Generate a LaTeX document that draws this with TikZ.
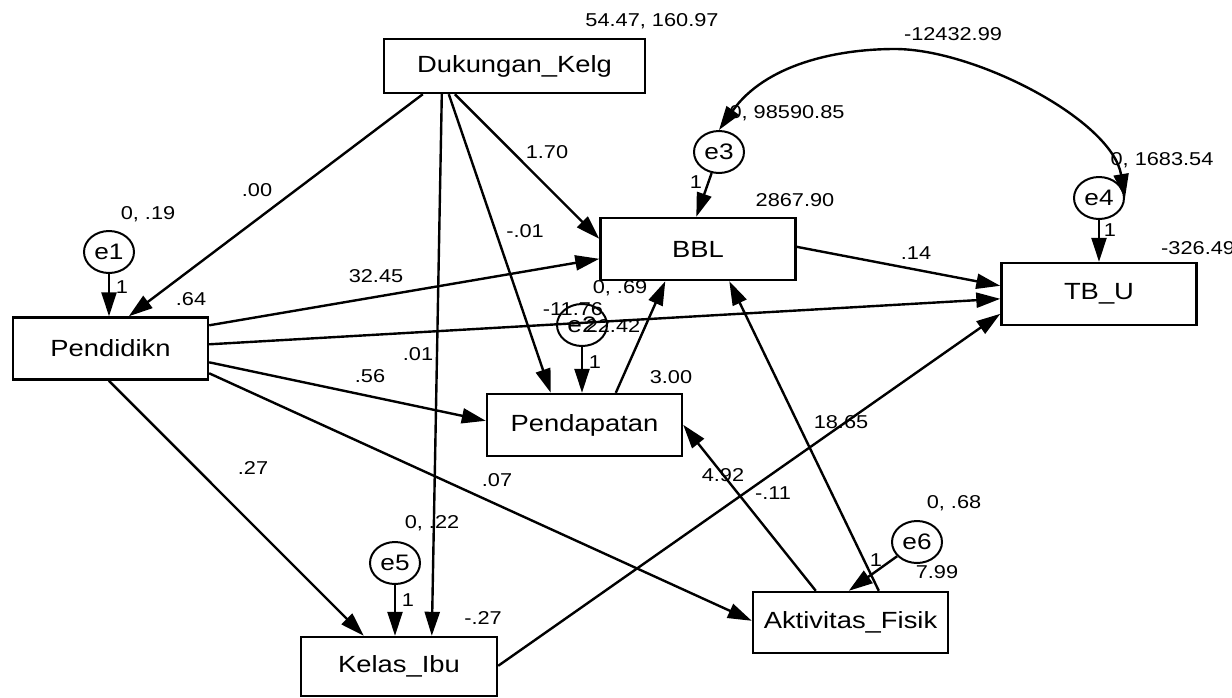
\documentclass[tikz,border=0pt]{standalone}
\usepackage{fontspec}
\setmainfont{Liberation Sans}[FakeStretch=1.17]
\usetikzlibrary{arrows.meta,calc,shapes.geometric}
\begin{document}
\begin{tikzpicture}[x=0.5pt,y=-0.5pt, line width=1.2pt,
 box/.style={draw, line width=1.2pt, minimum width=97.5pt, minimum height=31pt, inner sep=0pt, font=\fontsize{11.7}{14}\selectfont},
 err/.style={draw, ellipse, line width=1pt, minimum width=25pt, minimum height=21pt, inner sep=0pt, font=\fontsize{11.2}{13}\selectfont},
 lbl/.style={font=\fontsize{9.3}{11}\selectfont, inner sep=0pt},
 pth/.style={-{Triangle[length=12pt,width=7.5pt]}, line width=1.2pt},
 cov/.style={{Triangle[length=12pt,width=7.5pt]}-{Triangle[length=12pt,width=7.5pt]}, line width=1.2pt}]
\useasboundingbox (0,0) rectangle (1232,697);
% boxes
\node[box, minimum width=130.5pt, minimum height=27pt] (dk) at (514.5,66) {Dukungan\_Kelg};
\node[box] (bbl) at (698,249) {BBL};
\node[box] (tb) at (1099,294) {TB\_U};
\node[box] (pe) at (110.5,348.5) {Pendidikn};
\node[box] (pd) at (584.5,425) {Pendapatan};
\node[box, minimum width=98pt, minimum height=29.5pt] (ki) at (399,666.5) {Kelas\_Ibu};
\node[box, minimum height=30.5pt] (ak) at (850.5,622.5) {Aktivitas\_Fisik};
% error terms
\node[err] (e1) at (109,252) {e1};
\node[err] (e2) at (582,325) {e2};
\node[err] (e3) at (719,152) {e3};
\node[err] (e4) at (1099,198) {e4};
\node[err] (e5) at (395,563) {e5};
\node[err] (e6) at (917,542) {e6};
% paths
\draw[pth] ($(dk.south west)+(40,0)$) -- ($(pe.north west)+(117,0)$);
\draw[pth] ($(dk.south west)+(59,0)$) -- ($(ki.north west)+(132,0)$);
\draw[pth] ($(dk.south west)+(66,0)$) -- ($(pd.north west)+(65,0)$);
\draw[pth] ($(dk.south west)+(72,0)$) -- ($(bbl.north west)+(0,22)$);
\draw[pth] ($(pe.north east)+(0,9)$) -- ($(bbl.north west)+(0,42)$);
\draw[pth] ($(pe.north east)+(0,28)$) -- ($(tb.north west)+(0,37)$);
\draw[pth] ($(pe.north east)+(0,46)$) -- ($(pd.north west)+(0,28)$);
\draw[pth] ($(pe.north east)+(0,57)$) -- ($(ak.north west)+(0,30)$);
\draw[pth] ($(pe.south west)+(97,0)$) -- ($(ki.north west)+(64,0)$);
\draw[pth] ($(bbl.north east)+(0,30)$) -- ($(tb.north west)+(0,24)$);
\draw[pth] ($(ki.north east)+(0,30)$) -- ($(tb.north west)+(0,52)$);
\draw[pth] ($(pd.north west)+(130,0)$) -- ($(bbl.south west)+(66,0)$);
\draw[pth] ($(ak.north west)+(64,0)$) -- ($(pd.north east)+(0,32)$);
\draw[pth] ($(ak.north west)+(127,0)$) -- ($(bbl.south west)+(130,0)$);
\draw[pth] (e6) -- ($(ak.north west)+(97,0)$);
\draw[pth] (e1) -- (e1 |- pe.north);
\draw[pth] (e2) -- (e2 |- pd.north);
\draw[pth] (e3) -- ($(bbl.north west)+(97,0)$);
\draw[pth] (e4) -- (e4 |- tb.north);
\draw[pth] (e5) -- (e5 |- ki.north);
% covariance
\coordinate (ctop) at (895,49);
\draw[cov] (e3.north) .. controls (765,65) and (835,49) .. (ctop) .. controls (975,49) and (1112,120) .. (e4.east);
% labels
\node[lbl] (v0) at (652,21) {54.47, 160.97};
\node[lbl] (c34) at (953,34) {-12432.99};
\node[lbl] (v3) at (787,113) {0, 98590.85};
\node[lbl] (v4) at (1162,160) {0, 1683.54};
\node[lbl] (ibbl) at (795,200) {2867.90};
\node[lbl, anchor=west] (itb) at (1160,248) {-326.49};
\node[lbl] (p14) at (916,253) {.14};
\node[lbl] (p170) at (547,152) {1.70};
\node[lbl] (p00) at (257,190) {.00};
\node[lbl] (p01a) at (525,231) {-.01};
\node[lbl] (v1) at (148,214) {0, .19};
\node[lbl] (w1) at (122,287) {1};
\node[lbl] (ipe) at (191,299) {.64};
\node[lbl] (p3245) at (376,276) {32.45};
\node[lbl] (v2) at (620,288) {0, .69};
\node[lbl] (p1176) at (573,309) {-11.76};
\node[lbl] (p2242) at (613,326) {22.42};
\node[lbl] (w2) at (595,362) {1};
\node[lbl] (ipd) at (671,377) {3.00};
\node[lbl] (p01b) at (418,354) {.01};
\node[lbl] (p56) at (370,376) {.56};
\node[lbl] (p27) at (253,468) {.27};
\node[lbl] (p07) at (497,480) {.07};
\node[lbl] (p1865) at (841,422) {18.65};
\node[lbl] (p492) at (723,475) {4.92};
\node[lbl] (p11) at (773,493) {-.11};
\node[lbl] (v6) at (954,503) {0, .68};
\node[lbl] (w6) at (876,560) {1};
\node[lbl] (iak) at (937,572) {7.99};
\node[lbl] (v5) at (432,523) {0, .22};
\node[lbl] (w5) at (408,600) {1};
\node[lbl] (iki) at (483,618) {-.27};
\node[lbl] (w3) at (696,182) {1};
\node[lbl] (w4) at (1110,230) {1};
\end{tikzpicture}
\end{document}
